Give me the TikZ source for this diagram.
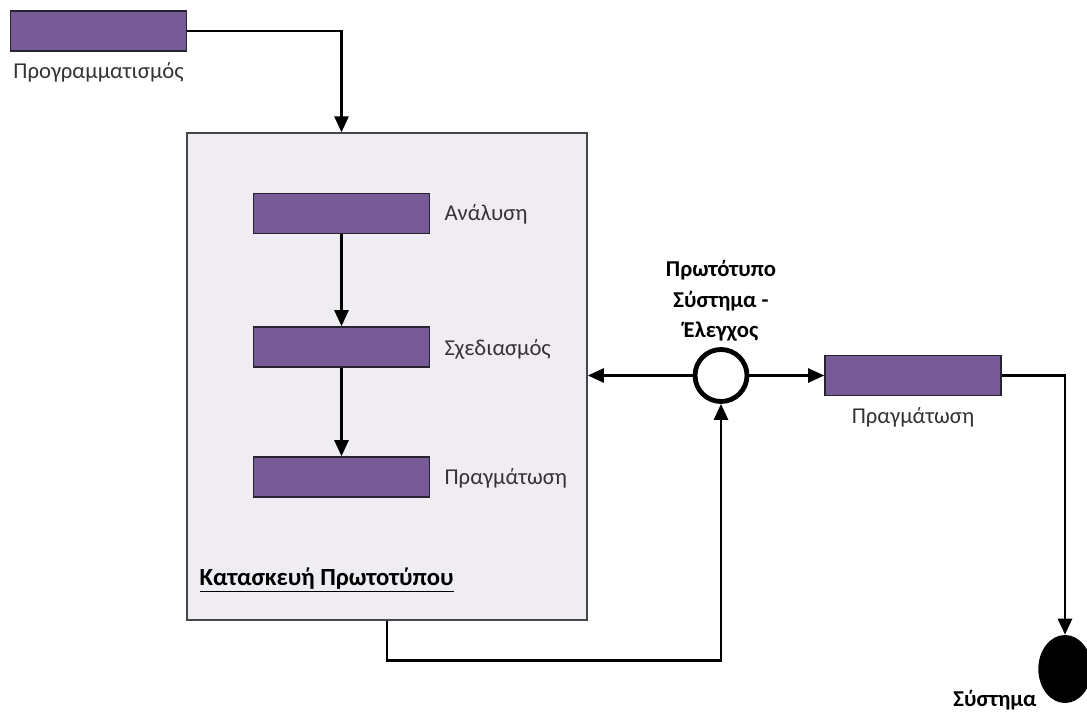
\documentclass[tikz,border=0pt]{standalone}
\usepackage{fontspec}
\setmainfont{Carlito}
\usetikzlibrary{arrows.meta,positioning,shapes.geometric}
\definecolor{barviolet}{RGB}{118,91,150}
\definecolor{barline}{RGB}{40,35,50}
\definecolor{boxfill}{RGB}{239,236,242}
\definecolor{boxline}{RGB}{70,70,75}
\definecolor{labelgray}{RGB}{55,50,55}
\tikzset{
  bar/.style={draw=barline,fill=barviolet,line width=1.2pt,minimum width=132pt,minimum height=30pt,inner sep=0pt},
  flow/.style={line width=1.9pt,-{Triangle[length=12pt,width=10.5pt]}},
  lbl/.style={text=labelgray,font=\fontsize{17}{20}\selectfont,inner sep=1pt},
  boldlbl/.style={text=black,font=\fontsize{17}{23}\selectfont\bfseries,align=center,inner sep=1pt},
}
\begin{document}
\begin{tikzpicture}[x=0.75pt,y=-0.75pt]
  \useasboundingbox (0,0) rectangle (1087,716);
  % Planning
  \node[bar] (plan) at (98.5,31) {};
  \node[lbl,below=7pt of plan] (planlbl) {Προγραμματισμός};
  % Prototype construction box
  \node[draw=boxline,fill=boxfill,line width=1.2pt,minimum width=300pt,minimum height=365pt] (proto) at (387,376.5) {};
  \node[bar] (anal) at (341.5,213.5) {};
  \node[bar] (design) at (341.5,347) {};
  \node[bar] (impl) at (341.5,477) {};
  \node[lbl,anchor=west] (analbl) at (443,214) {Ανάλυση};
  \node[lbl,anchor=west] (designlbl) at (443,349) {Σχεδιασμός};
  \node[lbl,anchor=west] (impllbl) at (443,478) {Πραγμάτωση};
  \node[boldlbl,anchor=west,font=\fontsize{18.5}{23}\selectfont\bfseries] (protolbl) at (198,580) {\underline{Κατασκευή Πρωτοτύπου}};
  % Prototype system - testing
  \node[circle,draw,fill=white,line width=3.6pt,minimum size=39pt,inner sep=0pt] (test) at (721,375.5) {};
  \node[boldlbl,above=3pt of test] (testlbl) {Πρωτότυπο\\Σύστημα -\\Έλεγχος};
  % Final implementation and system
  \node[bar] (real) at (913,375.5) {};
  \node[lbl,below=7pt of real] (reallbl) {Πραγμάτωση};
  \node[ellipse,fill=black,minimum width=40pt,minimum height=51pt,inner sep=0pt] (sys) at (1065,669) {};
  \node[boldlbl,anchor=east] (syslbl) at (1038,700) {Σύστημα};
  % Connectors
  \draw[flow] (plan.east) -| (anal.north |- proto.north);
  \draw[flow] (anal.south) -- (design.north);
  \draw[flow] (design.south) -- (impl.north);
  \draw[flow] (test.west) -- (test.west -| proto.east);
  \draw[flow] (test.east) -- (real.west);
  \draw[flow] (real.east) -| (sys.north);
  \draw[flow] (proto.south) -- ++(0,40) -| (test.south);
\end{tikzpicture}
\end{document}
